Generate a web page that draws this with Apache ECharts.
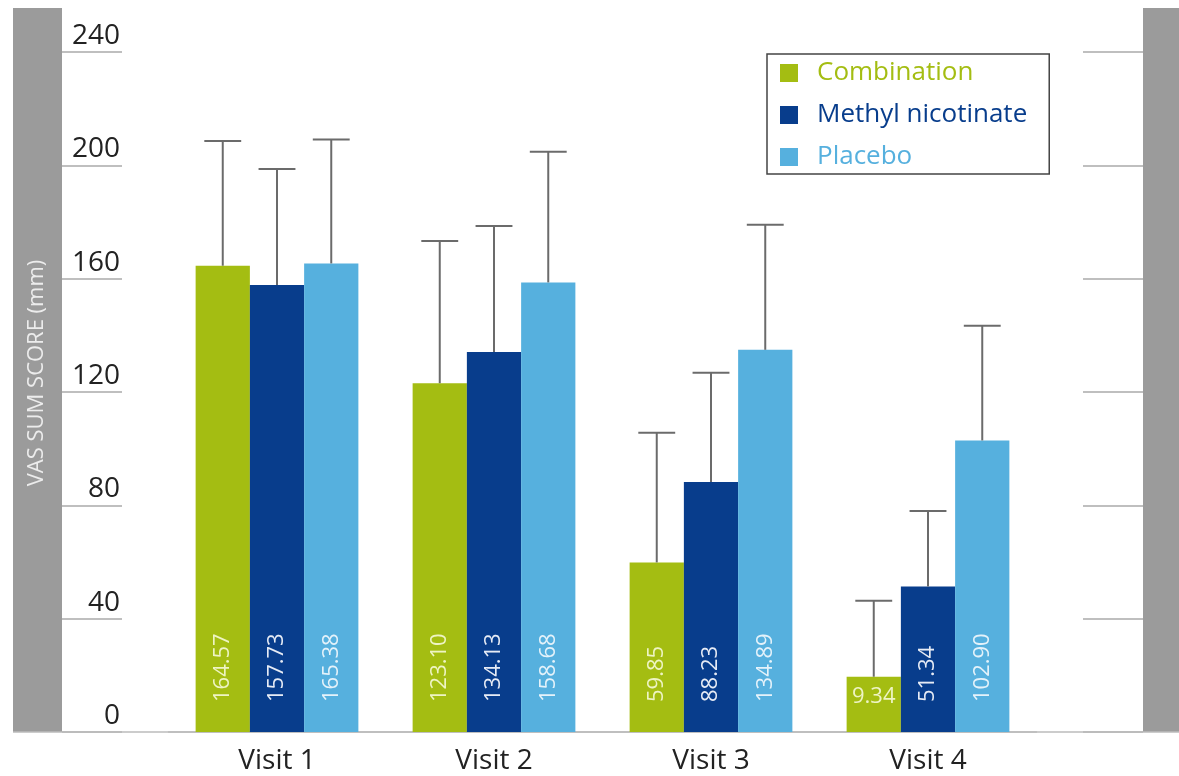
<!DOCTYPE html>
<html>
<head>
<meta charset="utf-8">
<script src="https://cdn.jsdelivr.net/npm/echarts@6/dist/echarts.min.js"></script>
<style>
html,body{margin:0;padding:0;background:#fff;}
#c{width:1179px;height:776px;}
</style>
</head>
<body>
<div id="c"></div>
<script>
// ---- data ----
const categories = ['Visit 1', 'Visit 2', 'Visit 3', 'Visit 4'];
const seriesNames = ['Combination', 'Methyl nicotinate', 'Placebo'];
const yTicks = [0, 40, 80, 120, 160, 200, 240];

// bar heights as drawn
const combination = [164.57, 123.10, 59.85, 19.5];
const methyl = [157.73, 134.13, 88.23, 51.34];
const placebo = [165.38, 158.68, 134.89, 102.90];

// printed labels inside bars
const combinationLabels = ['164.57', '123.10', '59.85', '9.34'];
const methylLabels = ['157.73', '134.13', '88.23', '51.34'];
const placeboLabels = ['165.38', '158.68', '134.89', '102.90'];

// top of error bars
const combinationUpper = [208.6, 173.3, 105.6, 46.3];
const methylUpper = [198.7, 178.6, 126.8, 78.0];
const placeboUpper = [209.1, 204.8, 179.0, 143.4];

// ---- styling ----
const colors = ['#a4bd12', '#083d8c', '#56b0de'];
const labelColors = ['#eef4c4', '#e6ebf5', '#e4f2fa'];
const FONT = '"Open Sans", "Noto Sans", sans-serif';

const values = [combination, methyl, placebo];
const labels = [combinationLabels, methylLabels, placeboLabels];
const uppers = [combinationUpper, methylUpper, placeboUpper];

const chart = echarts.init(document.getElementById('c'), null, {renderer: 'canvas'});

function barSeries(i) {
  return {
    name: seriesNames[i],
    type: 'bar',
    barGap: '0%',
    barCategoryGap: '25%',
    itemStyle: {color: colors[i]},
    z: 2,
    label: {
      show: true,
      position: 'insideBottom',
      rotate: 90,
      align: 'left',
      verticalAlign: 'middle',
      distance: 30,
      color: labelColors[i],
      fontFamily: FONT,
      fontSize: 22,
      formatter: p => labels[i][p.dataIndex]
    },
    data: values[i].map((v, k) => {
      const shortBar = v < 30;
      if (shortBar) {
        return {
          value: v,
          label: {rotate: 0, align: 'center', verticalAlign: 'middle', distance: 35}
        };
      }
      return v;
    })
  };
}

function errorSeries(i) {
  return {
    name: seriesNames[i] + ' error',
    type: 'custom',
    z: 3,
    silent: true,
    legendHoverLink: false,
    renderItem: function (params, api) {
      const cat = api.value(0);
      const top = api.coord([cat, api.value(2)]);
      const base = api.coord([cat, api.value(1)]);
      const band = api.size([1, 0])[0];
      const x = top[0] + (i - 1) * band * 0.25;
      const half = band * 0.085;
      const style = {stroke: '#6b6b6b', lineWidth: 2};
      return {
        type: 'group',
        children: [
          {type: 'line', shape: {x1: x, y1: base[1], x2: x, y2: top[1]}, style: style},
          {type: 'line', shape: {x1: x - half, y1: top[1], x2: x + half, y2: top[1]}, style: style}
        ]
      };
    },
    data: categories.map((c, k) => [k, values[i][k], uppers[i][k]])
  };
}

const option = {
  backgroundColor: '#ffffff',
  animation: false,
  textStyle: {fontFamily: FONT},
  legend: {
    orient: 'vertical',
    left: 767,
    top: 54,
    padding: [6, 22, 4, 13],
    itemGap: 16,
    itemWidth: 18,
    itemHeight: 18,
    icon: 'rect',
    borderColor: '#444',
    borderWidth: 1.5,
    backgroundColor: '#fff',
    selectedMode: false,
    textStyle: {fontFamily: FONT, fontSize: 26, lineHeight: 24, padding: [0, 0, 0, 14]},
    data: seriesNames.map((n, i) => ({name: n, textStyle: {color: colors[i]}}))
  },
  grid: {left: 168.5, right: 142.5, top: 52, bottom: 44, containLabel: false, outerBoundsMode: 'none'},
  xAxis: {
    type: 'category',
    data: categories,
    axisLine: {show: true, lineStyle: {color: '#bbbbbb', width: 1.5}},
    axisTick: {show: false},
    axisLabel: {color: '#222', fontSize: 28, fontFamily: FONT, margin: 15}
  },
  yAxis: [
    {
      type: 'value',
      position: 'left',
      offset: 46.5,
      min: 0, max: 240, interval: 40,
      name: 'VAS SUM SCORE (mm)',
      nameLocation: 'middle',
      nameRotate: 90,
      nameGap: 74,
      nameTextStyle: {color: '#ececec', fontSize: 22, fontFamily: FONT, padding: [0, 0, 0, 38]},
      axisLine: {show: false},
      axisTick: {show: true, length: 60, lineStyle: {color: '#aaaaaa', width: 1.5}},
      splitLine: {show: false},
      axisLabel: {
        color: '#222', fontSize: 28, fontFamily: FONT, margin: 2,
        verticalAlign: 'bottom', lineHeight: 28, padding: [0, 0, 2, 0],
        formatter: v => (yTicks.indexOf(v) >= 0 ? String(v) : '')
      }
    },
    {
      type: 'value',
      position: 'right',
      offset: 106.5,
      min: 0, max: 240, interval: 40,
      axisLine: {show: false},
      axisTick: {show: true, inside: true, length: 60, lineStyle: {color: '#aaaaaa', width: 1.5}},
      splitLine: {show: false},
      axisLabel: {show: false}
    }
  ],
  series: [barSeries(0), barSeries(1), barSeries(2), errorSeries(0), errorSeries(1), errorSeries(2)]
};

chart.setOption(option);

// gray side bands and full-width baseline, placed at the y-axis zero
const y0 = chart.convertToPixel({yAxisIndex: 0}, yTicks[0]);
chart.setOption({
  graphic: [
    {type: 'rect', shape: {x: 13, y: 8, width: 49, height: y0 - 8}, style: {fill: '#9b9b9b'}, z: 0},
    {type: 'rect', shape: {x: 1143, y: 8, width: 36, height: y0 - 8}, style: {fill: '#9b9b9b'}, z: 0},
    {type: 'line', shape: {x1: 13, y1: y0, x2: 1179, y2: y0}, style: {stroke: '#bbbbbb', lineWidth: 1.5}, z: 1}
  ]
});
</script>
</body>
</html>
